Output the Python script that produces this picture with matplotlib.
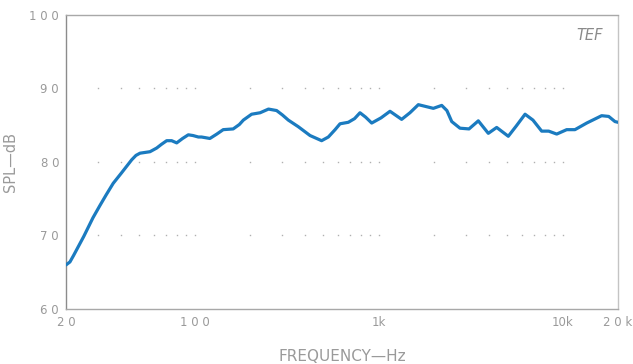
import matplotlib
matplotlib.use("Agg")
import matplotlib.pyplot as plt

# frequency response (Hz, dB SPL)
freq_hz = [20, 21, 22, 25, 28, 30.6, 33, 36.1, 40, 45.5, 48, 50.5, 57.2, 62.2, 66, 70.5,
           75, 79.9, 86, 92.4, 98, 104.8, 109, 115, 121, 132, 143, 162, 175, 184,
           204, 227, 252, 279, 300, 323, 366, 424, 490, 533, 580, 617, 684, 740,
           792, 850, 917, 1030, 1153, 1334, 1480, 1644, 1983, 2203, 2350, 2497,
           2768, 3100, 3482, 3946, 4382, 5067, 5600, 6250, 6900, 7694, 8400, 9290,
           10525, 11670, 13520, 16300, 17800, 19260, 20000]
spl_db = [66.0, 66.4, 67.3, 69.9, 72.4, 74.1, 75.5, 77.1, 78.5, 80.3, 80.9, 81.2, 81.4, 81.9, 82.4, 82.9,
          82.9, 82.6, 83.2, 83.7, 83.6, 83.4, 83.4, 83.3, 83.2, 83.8, 84.4, 84.5, 85.1, 85.7,
          86.5, 86.7, 87.2, 87.0, 86.4, 85.7, 84.8, 83.6, 82.9, 83.4, 84.4, 85.2, 85.4, 85.9,
          86.7, 86.1, 85.3, 86.0, 86.9, 85.8, 86.7, 87.8, 87.3, 87.7, 87.0, 85.5,
          84.6, 84.5, 85.6, 83.9, 84.7, 83.5, 84.9, 86.5, 85.7, 84.2, 84.2, 83.8,
          84.4, 84.4, 85.3, 86.3, 86.2, 85.5, 85.4]

x_ticks = [20, 100, 1000, 10000, 20000]
x_labels = ["2 0", "1 0 0", "1k", "10k", "2 0 k"]
y_ticks = [60, 70, 80, 90, 100]
y_labels = ["6 0", "7 0", "8 0", "9 0", "1 0 0"]

# dotted reference rows
grid_levels = [70, 80, 90]
grid_freqs = [30, 40, 50, 60, 70, 80, 90, 100, 200, 300, 400, 500, 600, 700, 800, 900,
              1000, 2000, 3000, 4000, 5000, 6000, 7000, 8000, 9000, 10000]

gray = "#9a9a9a"

fig = plt.figure(figsize=(6.33, 3.64), dpi=100)
ax = fig.add_axes([0.1043, 0.1511, 0.872, 0.8077])

for lvl in grid_levels:
    ax.plot(grid_freqs, [lvl] * len(grid_freqs), linestyle="none", marker="s",
            markersize=1.0, color="#b0b0b0", markeredgewidth=0)

ax.plot(freq_hz, spl_db, color="#1b7bc0", linewidth=2.3, solid_joinstyle="round",
        solid_capstyle="round", zorder=3)

ax.set_xscale("log")
ax.set_xlim(20, 20000)
ax.set_ylim(60, 100)
ax.minorticks_off()
ax.set_xticks(x_ticks)
ax.set_xticklabels(x_labels, fontsize=8.5, color=gray)
ax.set_yticks(y_ticks)
ax.set_yticklabels(y_labels, fontsize=8.5, color=gray)
ax.tick_params(length=0, pad=5)

for side, sp in ax.spines.items():
    sp.set_color("#a8a8a8")
    sp.set_linewidth(1.0)
ax.spines["left"].set_color("#8c8c8c")
ax.spines["right"].set_color("#c4c4c4")
ax.spines["right"].set_linestyle((0, (1, 1)))

ax.set_xlabel("FREQUENCY\u2014Hz", fontsize=11, color=gray)
ax.set_ylabel("SPL\u2014dB", fontsize=10.5, color=gray)
ax.xaxis.set_label_coords(0.5, -0.135)
ax.yaxis.set_label_coords(-0.087, 0.5)

ax.text(0.973, 0.955, "TEF", transform=ax.transAxes, ha="right", va="top",
        fontsize=10.5, style="italic", color="#8a8a8a")

fig.savefig("out.png", dpi=100)
